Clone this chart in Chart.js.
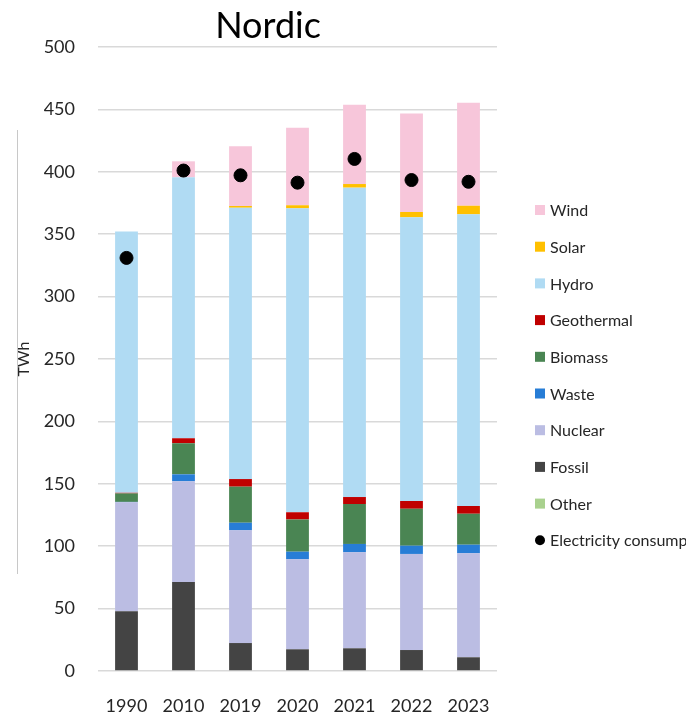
<!DOCTYPE html>
<html>
<head>
<meta charset="utf-8">
<script src="https://cdn.jsdelivr.net/npm/chart.js@4.4.0/dist/chart.umd.min.js"></script>
<style>
  html, body { margin: 0; padding: 0; background: #fff; }
  #wrap { width: 686px; height: 717px; position: relative; }
</style>
</head>
<body>
<div id="wrap"><canvas id="myChart"></canvas></div>
<script>
// values in TWh
const years = ['1990', '2010', '2019', '2020', '2021', '2022', '2023'];
const other = [0, 0, 0, 0, 0, 0, 0];
const fossil = [47.8, 71.3, 22.4, 17.4, 18.2, 16.8, 11.0];
const nuclear = [87.4, 80.7, 90.3, 72.1, 76.9, 77.0, 83.3];
const waste = [0.3, 5.6, 6.1, 6.1, 6.7, 6.6, 6.9];
const biomass = [6.8, 24.9, 28.9, 25.8, 32.0, 29.6, 24.8];
const geothermal = [0.5, 4.0, 6.1, 5.8, 5.6, 6.2, 6.2];
const hydro = [209.4, 209.1, 217.4, 243.5, 247.9, 227.3, 233.7];
const solar = [0, 0, 1.4, 2.5, 2.9, 4.3, 6.9];
const wind = [0, 12.8, 47.8, 62.1, 63.6, 79.0, 82.6];
const consumption = [331, 401, 397.2, 391.3, 410.3, 393.4, 392.0];

const legendOrder = ['Wind', 'Solar', 'Hydro', 'Geothermal', 'Biomass', 'Waste',
  'Nuclear', 'Fossil', 'Other', 'Electricity consumption'];

const FONT = 'Lato';
const TEXT = '#262626';

function bar(label, values, color) {
  return {type: 'bar', label: label, data: values, backgroundColor: color,
    stack: 'gen', barPercentage: 0.4, categoryPercentage: 1.0};
}

const data = {
  labels: years,
  datasets: [
    {type: 'line', label: 'Electricity consumption', data: consumption,
      showLine: false, pointRadius: 6.5, pointBackgroundColor: '#000',
      pointBorderColor: '#000', borderColor: '#000', backgroundColor: '#000',
      stack: 'cons', order: -1},
    bar('Other', other, '#a9d18e'),
    bar('Fossil', fossil, '#444444'),
    bar('Nuclear', nuclear, '#bbbde3'),
    bar('Waste', waste, '#277dd6'),
    bar('Biomass', biomass, '#4a8553'),
    bar('Geothermal', geothermal, '#c00000'),
    bar('Hydro', hydro, '#b0dbf3'),
    bar('Solar', solar, '#ffc000'),
    bar('Wind', wind, '#f7c6da'),
  ]
};

// legend on the right, plus the bit of frame cut off on the left
const extras = {
  id: 'extras',
  afterDraw(chart) {
    const ctx = chart.ctx;
    ctx.save();
    ctx.strokeStyle = '#c8c8c8';
    ctx.lineWidth = 1;
    ctx.beginPath();
    ctx.moveTo(17.5, 130);
    ctx.lineTo(17.5, 574);
    ctx.stroke();

    ctx.font = '16px ' + FONT;
    ctx.textBaseline = 'middle';
    ctx.textAlign = 'left';
    legendOrder.forEach((name, i) => {
      const ds = chart.data.datasets.find(d => d.label === name);
      const y = 210 + i * 36.7;
      ctx.fillStyle = ds.backgroundColor;
      if (ds.type === 'line') {
        ctx.beginPath();
        ctx.arc(540, y, 5, 0, Math.PI * 2);
        ctx.fill();
      } else {
        ctx.fillRect(535, y - 5, 10, 10);
      }
      ctx.fillStyle = TEXT;
      ctx.fillText(name, 550, y + 1);
    });
    ctx.restore();
  }
};

const config = {
  data: data,
  plugins: [extras],
  options: {
    responsive: true,
    maintainAspectRatio: false,
    animation: false,
    layout: {padding: {left: 39, right: 189, top: 0, bottom: 0}},
    plugins: {
      legend: {display: false},
      tooltip: {enabled: false},
      title: {display: true, text: 'Nordic', color: '#000',
        font: {family: FONT, size: 36, weight: 'normal', lineHeight: 1},
        padding: {top: 8, bottom: 3}},
    },
    scales: {
      x: {
        stacked: true,
        afterFit: (scale) => { scale.height = 46; },
        grid: {display: false},
        border: {display: false},
        ticks: {color: TEXT, padding: 16, font: {family: FONT, size: 18}},
      },
      y: {
        stacked: true,
        min: 0,
        max: 500,
        afterFit: (scale) => { scale.width = 59; },
        grid: {color: '#d9d9d9', lineWidth: 1.5, drawTicks: false},
        border: {display: false},
        ticks: {stepSize: 50, color: TEXT, padding: 23,
          font: {family: FONT, size: 18}},
        title: {display: true, text: 'TWh', color: TEXT,
          font: {family: FONT, size: 16}, padding: {top: -24.6, bottom: 0}},
      }
    }
  }
};

const chart = new Chart(document.getElementById('myChart'), config);
</script>
</body>
</html>
